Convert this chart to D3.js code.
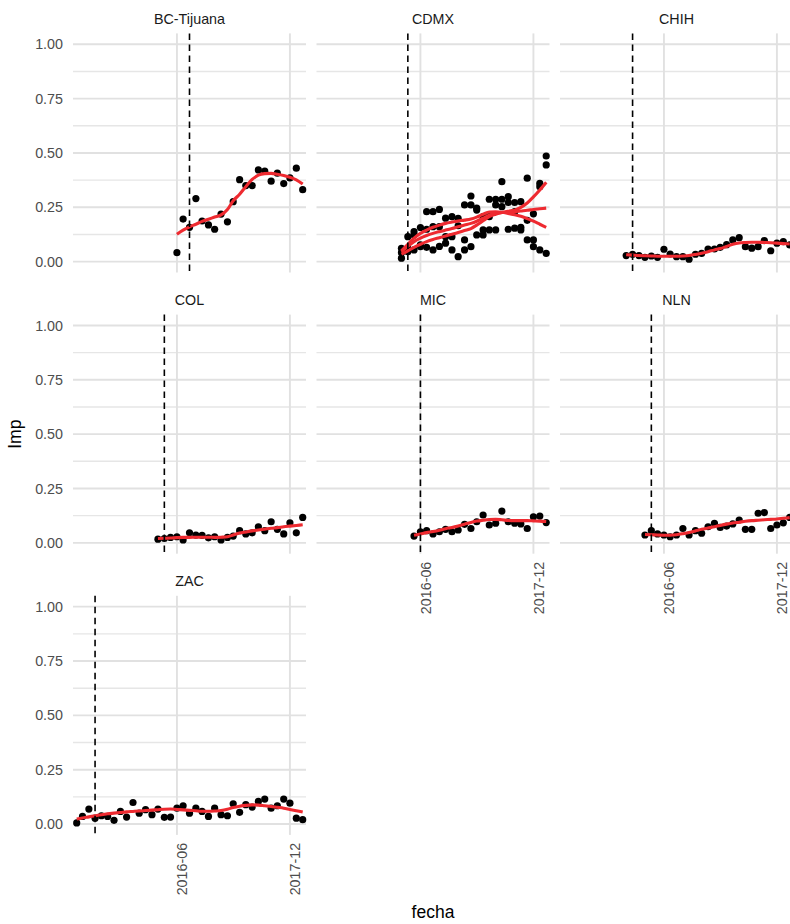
<!DOCTYPE html>
<html>
<head>
<meta charset="utf-8">
<script src="https://cdn.jsdelivr.net/npm/d3@7"></script>
<style>
  body { margin: 0; background: #fff; }
  svg { display: block; font-family: "Liberation Sans", Arial, sans-serif; }
</style>
</head>
<body>
<div id="chart"></div>
<script>
// facet names, in facet_wrap order
const panels = ["BC-Tijuana", "CDMX", "CHIH", "COL", "MIC", "NLN", "ZAC"];
// start of the dashed reference line for each facet
const vlineDates = ["2016-08-01", "2016-04-01", "2016-01-01", "2016-04-01", "2016-06-01", "2016-04-01", "2015-05-01"];

const months = [
  "2015-02", "2015-03", "2015-04", "2015-05", "2015-06", "2015-07", "2015-08", "2015-09", "2015-10", "2015-11", "2015-12",
  "2016-01", "2016-02", "2016-03", "2016-04", "2016-05", "2016-06", "2016-07", "2016-08", "2016-09", "2016-10", "2016-11", "2016-12",
  "2017-01", "2017-02", "2017-03", "2017-04", "2017-05", "2017-06", "2017-07", "2017-08", "2017-09", "2017-10", "2017-11", "2017-12",
  "2018-01", "2018-02"
];

const yTicks = [0, 0.25, 0.5, 0.75, 1];
const yMinor = [0.125, 0.375, 0.625, 0.875];
const xTicks = ["2016-06", "2017-12"];

// observed Imp per month
const impBC = [0.041, 0.196, 0.158, 0.29, 0.187, 0.169, 0.149, 0.219, 0.183, 0.276, 0.377, 0.35, 0.35, 0.422, 0.416, 0.37, 0.407, 0.359, 0.385, 0.43, 0.331];
const impCDMXa = [0.041, 0.115, 0.138, 0.157, 0.23, 0.23, 0.24, 0.2, 0.207, 0.199, 0.261, 0.302, 0.246, 0.207, 0.287, 0.287, 0.368, 0.299, 0.272, 0.276, 0.384, 0.22, 0.36, 0.486];
const impCDMXb = [0.061, 0.061, 0.123, 0.077, 0.149, 0.161, 0.161, 0.115, 0.115, 0.165, 0.1, 0.261, 0.237, 0.146, 0.207, 0.261, 0.287, 0.272, 0.23, 0.158, 0.19, 0.1, 0.345, 0.445];
const impCDMXc = [0.016, 0.046, 0.054, 0.069, 0.066, 0.054, 0.07, 0.085, 0.054, 0.023, 0.054, 0.069, 0.123, 0.123, 0.146, 0.146, 0.253, 0.149, 0.154, 0.146, 0.1, 0.069, 0.054, 0.038];
const impCHIH = [0.028, 0.034, 0.028, 0.02, 0.026, 0.02, 0.057, 0.035, 0.023, 0.023, 0.011, 0.034, 0.038, 0.058, 0.058, 0.066, 0.078, 0.1, 0.11, 0.069, 0.062, 0.069, 0.097, 0.05, 0.085, 0.092, 0.077];
const impCOL = [0.017, 0.02, 0.025, 0.028, 0.013, 0.046, 0.035, 0.034, 0.023, 0.028, 0.013, 0.025, 0.031, 0.056, 0.041, 0.046, 0.074, 0.056, 0.097, 0.062, 0.041, 0.092, 0.046, 0.117];
const impMIC = [0.031, 0.051, 0.056, 0.041, 0.051, 0.062, 0.051, 0.059, 0.085, 0.066, 0.097, 0.128, 0.082, 0.09, 0.146, 0.097, 0.09, 0.087, 0.066, 0.12, 0.123, 0.093];
const impNLN = [0.036, 0.056, 0.041, 0.036, 0.028, 0.036, 0.066, 0.036, 0.056, 0.044, 0.074, 0.09, 0.071, 0.077, 0.087, 0.105, 0.062, 0.062, 0.136, 0.139, 0.066, 0.082, 0.092, 0.117];
const impZAC = [0.005, 0.035, 0.069, 0.027, 0.038, 0.035, 0.017, 0.058, 0.032, 0.099, 0.05, 0.066, 0.043, 0.069, 0.031, 0.032, 0.073, 0.084, 0.05, 0.073, 0.058, 0.035, 0.073, 0.043, 0.038, 0.093, 0.054, 0.089, 0.078, 0.104, 0.115, 0.073, 0.084, 0.115, 0.096, 0.027, 0.02];

// loess fits
const fitBC = [0.126, 0.145, 0.16, 0.172, 0.185, 0.195, 0.205, 0.215, 0.24, 0.28, 0.31, 0.345, 0.378, 0.398, 0.405, 0.406, 0.402, 0.396, 0.388, 0.376, 0.357];
const fitCDMXa = [0.035, 0.05, 0.066, 0.08, 0.092, 0.102, 0.11, 0.118, 0.126, 0.134, 0.143, 0.152, 0.168, 0.188, 0.207, 0.218, 0.226, 0.232, 0.237, 0.25, 0.27, 0.298, 0.33, 0.365];
const fitCDMXb = [0.045, 0.07, 0.092, 0.108, 0.12, 0.13, 0.138, 0.145, 0.152, 0.16, 0.168, 0.176, 0.186, 0.2, 0.214, 0.222, 0.226, 0.228, 0.23, 0.233, 0.236, 0.24, 0.243, 0.246];
const fitCDMXc = [0.05, 0.08, 0.108, 0.13, 0.145, 0.158, 0.168, 0.176, 0.182, 0.187, 0.191, 0.196, 0.205, 0.218, 0.228, 0.229, 0.227, 0.222, 0.216, 0.209, 0.198, 0.186, 0.172, 0.158];
const fitCHIH = [0.032, 0.03, 0.028, 0.027, 0.026, 0.025, 0.025, 0.025, 0.025, 0.026, 0.028, 0.033, 0.039, 0.046, 0.054, 0.06, 0.07, 0.08, 0.086, 0.088, 0.089, 0.089, 0.088, 0.087, 0.085, 0.083, 0.081];
const fitCOL = [0.02, 0.021, 0.022, 0.024, 0.025, 0.025, 0.026, 0.026, 0.026, 0.025, 0.026, 0.028, 0.036, 0.045, 0.05, 0.055, 0.059, 0.063, 0.067, 0.07, 0.074, 0.077, 0.08, 0.083];
const fitMIC = [0.035, 0.041, 0.047, 0.052, 0.058, 0.065, 0.071, 0.078, 0.086, 0.094, 0.1, 0.104, 0.107, 0.108, 0.106, 0.103, 0.102, 0.102, 0.102, 0.101, 0.1, 0.098];
const fitNLN = [0.038, 0.037, 0.036, 0.035, 0.035, 0.037, 0.042, 0.048, 0.055, 0.062, 0.068, 0.074, 0.08, 0.086, 0.091, 0.095, 0.099, 0.102, 0.104, 0.106, 0.108, 0.11, 0.113, 0.116];
const fitZAC = [0.023, 0.028, 0.033, 0.038, 0.043, 0.047, 0.05, 0.053, 0.056, 0.058, 0.06, 0.062, 0.064, 0.066, 0.068, 0.069, 0.067, 0.065, 0.063, 0.061, 0.059, 0.059, 0.06, 0.062, 0.068, 0.076, 0.082, 0.086, 0.088, 0.087, 0.084, 0.081, 0.077, 0.073, 0.067, 0.061, 0.055];

// one entry per series
const seriesPanel = ["BC-Tijuana", "CDMX", "CDMX", "CDMX", "CHIH", "COL", "MIC", "NLN", "ZAC"];
const seriesStart = ["2016-06", "2016-03", "2016-03", "2016-03", "2015-12", "2016-03", "2016-05", "2016-03", "2015-02"];
const seriesValues = [impBC, impCDMXa, impCDMXb, impCDMXc, impCHIH, impCOL, impMIC, impNLN, impZAC];
const seriesFit = [fitBC, fitCDMXa, fitCDMXb, fitCDMXc, fitCHIH, fitCOL, fitMIC, fitNLN, fitZAC];

const parseMonth = d3.utcParse("%Y-%m");
const parseDay = d3.utcParse("%Y-%m-%d");

// build series with dates
const series = seriesPanel.map((p, i) => {
    const s = months.indexOf(seriesStart[i]);
    return {
        panel: p,
        points: seriesValues[i].map((v, j) => ({ date: parseMonth(months[s + j]), v: v })),
        fit: seriesFit[i].map((v, j) => ({ date: parseMonth(months[s + j]), v: v }))
    };
});

const width = 790, height = 924;
const colLeft = [73, 316.5, 560];
const rowTop = [33.4, 314.6, 595.8];
const panelW = 233, panelH = 239.1;

const svg = d3.select("#chart").append("svg")
    .attr("width", width)
    .attr("height", height);

const x = d3.scaleUtc()
    .domain([parseDay("2015-01-14"), parseDay("2018-02-17")])
    .range([0, panelW]);
const y = d3.scaleLinear()
    .domain([-0.05, 1.05])
    .range([panelH, 0]);

const fitLine = d3.line()
    .curve(d3.curveMonotoneX)
    .x(d => x(d.date))
    .y(d => y(d.v));

panels.forEach((name, i) => {
    const col = i % 3, row = Math.floor(i / 3);
    const g = svg.append("g")
        .attr("transform", "translate(" + colLeft[col] + "," + rowTop[row] + ")");

    // grid
    g.selectAll(".minor").data(yMinor).enter().append("line")
        .attr("x1", 0).attr("x2", panelW)
        .attr("y1", d => y(d)).attr("y2", d => y(d))
        .attr("stroke", "#e6e6e6").attr("stroke-width", 1.4);
    g.selectAll(".major").data(yTicks).enter().append("line")
        .attr("x1", 0).attr("x2", panelW)
        .attr("y1", d => y(d)).attr("y2", d => y(d))
        .attr("stroke", "#e1e1e1").attr("stroke-width", 1.9);
    g.selectAll(".vgrid").data(xTicks).enter().append("line")
        .attr("x1", d => x(parseMonth(d))).attr("x2", d => x(parseMonth(d)))
        .attr("y1", 0).attr("y2", panelH)
        .attr("stroke", "#e1e1e1").attr("stroke-width", 1.9);

    // strip label
    svg.append("text")
        .attr("x", colLeft[col] + panelW / 2)
        .attr("y", rowTop[row] - 9.5)
        .attr("text-anchor", "middle")
        .style("font-size", "14.3px")
        .style("fill", "#1a1a1a")
        .text(name);

    const mine = series.filter(s => s.panel === name);

    // points
    mine.forEach(s => {
        g.selectAll(null).data(s.points).enter().append("circle")
            .attr("cx", d => x(d.date))
            .attr("cy", d => y(d.v))
            .attr("r", 3.6)
            .attr("fill", "#000");
    });

    // smooth
    mine.forEach(s => {
        g.append("path")
            .datum(s.fit)
            .attr("d", fitLine)
            .attr("fill", "none")
            .attr("stroke", "#ee2a30")
            .attr("stroke-width", 3.1);
    });

    // dashed reference line
    const vx = x(parseDay(vlineDates[i]));
    g.append("line")
        .attr("x1", vx).attr("x2", vx)
        .attr("y1", 0).attr("y2", panelH)
        .attr("stroke", "#000")
        .attr("stroke-width", 1.6)
        .attr("stroke-dasharray", "6.5,4.5");

    // y labels on first column
    if (col === 0) {
        g.selectAll(".ylab").data(yTicks).enter().append("text")
            .attr("x", -10)
            .attr("y", d => y(d))
            .attr("dy", "0.36em")
            .attr("text-anchor", "end")
            .style("font-size", "14.3px")
            .style("fill", "#4d4d4d")
            .text(d3.format(".2f"));
    }

    // x labels on the bottom panel of each column
    if (i >= panels.length - 3) {
        g.selectAll(".xlab").data(xTicks).enter().append("text")
            .attr("transform", d => "translate(" + x(parseMonth(d)) + "," + (panelH + 8) + ") rotate(-90)")
            .attr("dy", "0.72em")
            .attr("text-anchor", "end")
            .style("font-size", "14.3px")
            .style("fill", "#4d4d4d")
            .text(d => d);
    }
});

// axis titles
svg.append("text")
    .attr("x", (colLeft[0] + colLeft[2] + panelW) / 2)
    .attr("y", 918)
    .attr("text-anchor", "middle")
    .style("font-size", "17.5px")
    .style("fill", "#000")
    .text("fecha");

svg.append("text")
    .attr("transform", "translate(21," + ((rowTop[0] + rowTop[2] + panelH) / 2) + ") rotate(-90)")
    .attr("text-anchor", "middle")
    .style("font-size", "17.5px")
    .style("fill", "#000")
    .text("Imp");
</script>
</body>
</html>
